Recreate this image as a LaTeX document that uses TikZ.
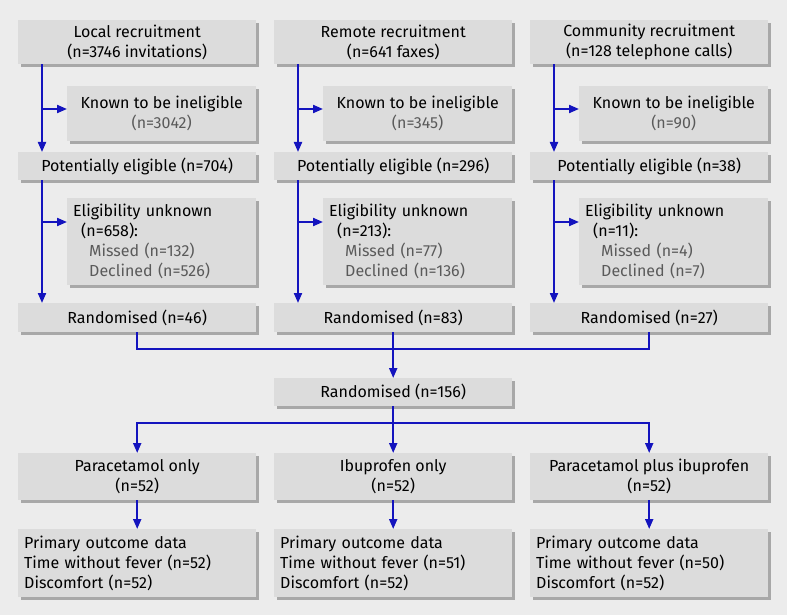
\documentclass[tikz,border=0pt]{standalone}
\usepackage{fontspec}
\setmainfont{Fira Sans}
\usetikzlibrary{arrows.meta, positioning, shadows}
\definecolor{cBack}{RGB}{236,236,236}
\definecolor{cBox}{RGB}{220,220,220}
\definecolor{cShade}{RGB}{168,168,168}
\definecolor{cFlow}{RGB}{20,20,190}
\definecolor{cNote}{RGB}{90,90,90}
\tikzset{
	box/.style ={rectangle, anchor=north west, fill=cBox, inner xsep=6pt, inner ysep=0pt,
		drop shadow={shadow xshift=3pt, shadow yshift=-3pt, fill=cShade, opacity=1}},
	cbox/.style={box, align=center},
	lbox/.style={box, align=left},
	link/.style={draw=cFlow, line width=2pt},
	flow/.style={link, -{Triangle[length=10pt, width=8pt]}},
}
\newcommand{\grey}[1]{\textcolor{cNote}{#1}}

\begin{document}
\begin{tikzpicture}[x=1pt, y=-1pt, font=\fontsize{16}{20}\selectfont]
	\useasboundingbox (0,0) rectangle (787,615);
	\fill[cBack] (0,0) rectangle (787,615);
	% recruitment
	\node[cbox, minimum width=238pt, minimum height=44pt] (loc1) at (18,20) {Local recruitment\\(n=3746 invitations)};
	\node[cbox, minimum width=238pt, minimum height=44pt] (loc2) at (274,20) {Remote recruitment\\(n=641 faxes)};
	\node[cbox, minimum width=238pt, minimum height=44pt] (loc3) at (530,20) {Community recruitment\\(n=128 telephone calls)};
	\node[cbox, minimum width=189pt, minimum height=55pt] (inel1) at (67,86) {Known to be ineligible\\\grey{(n=3042)}};
	\node[cbox, minimum width=189pt, minimum height=55pt] (inel2) at (323,86) {Known to be ineligible\\\grey{(n=345)}};
	\node[cbox, minimum width=189pt, minimum height=55pt] (inel3) at (579,86) {Known to be ineligible\\\grey{(n=90)}};
	\node[cbox, minimum width=238pt, minimum height=28pt] (pot1) at (18,152) {Potentially eligible (n=704)};
	\node[cbox, minimum width=238pt, minimum height=28pt] (pot2) at (274,152) {Potentially eligible (n=296)};
	\node[cbox, minimum width=238pt, minimum height=28pt] (pot3) at (530,152) {Potentially eligible (n=38)};
	\node[lbox, text width=177pt, minimum height=87pt] (unk1) at (67,198) {Eligibility unknown\\\hspace*{8pt}(n=658):\\\hspace*{16pt}\grey{Missed (n=132)}\\\hspace*{16pt}\grey{Declined (n=526)}};
	\node[lbox, text width=177pt, minimum height=87pt] (unk2) at (323,198) {Eligibility unknown\\\hspace*{8pt}(n=213):\\\hspace*{16pt}\grey{Missed (n=77)}\\\hspace*{16pt}\grey{Declined (n=136)}};
	\node[lbox, text width=177pt, minimum height=87pt] (unk3) at (579,198) {Eligibility unknown\\\hspace*{8pt}(n=11):\\\hspace*{16pt}\grey{Missed (n=4)}\\\hspace*{16pt}\grey{Declined (n=7)}};
	\node[cbox, minimum width=238pt, minimum height=29pt] (rand1) at (18,303) {Randomised (n=46)};
	\node[cbox, minimum width=238pt, minimum height=29pt] (rand2) at (274,303) {Randomised (n=83)};
	\node[cbox, minimum width=238pt, minimum height=29pt] (rand3) at (530,303) {Randomised (n=27)};
	% allocation
	\node[cbox, minimum width=238pt, minimum height=28pt] (rall) at (274,378) {Randomised (n=156)};
	\node[cbox, minimum width=238pt, minimum height=47pt] (trt1) at (18,453) {Paracetamol only\\(n=52)};
	\node[cbox, minimum width=238pt, minimum height=47pt] (trt2) at (274,453) {Ibuprofen only\\(n=52)};
	\node[cbox, minimum width=238pt, minimum height=47pt] (trt3) at (530,453) {Paracetamol plus ibuprofen\\(n=52)};
	\node[lbox, text width=226pt, minimum height=68pt] (out1) at (18,529) {Primary outcome data\\Time without fever (n=52)\\Discomfort (n=52)};
	\node[lbox, text width=226pt, minimum height=68pt] (out2) at (274,529) {Primary outcome data\\Time without fever (n=51)\\Discomfort (n=52)};
	\node[lbox, text width=226pt, minimum height=68pt] (out3) at (530,529) {Primary outcome data\\Time without fever (n=50)\\Discomfort (n=52)};
	% trunks and side branches
	\coordinate (tk1) at ([xshift=24pt]loc1.south west);
	\coordinate (tk2) at ([xshift=24pt]loc2.south west);
	\coordinate (tk3) at ([xshift=24pt]loc3.south west);
	\coordinate (br1) at ([yshift=-23pt]inel1.north west);
	\coordinate (br2) at ([yshift=-23pt]inel2.north west);
	\coordinate (br3) at ([yshift=-23pt]inel3.north west);
	\coordinate (bu1) at ([yshift=-24pt]unk1.north west);
	\coordinate (bu2) at ([yshift=-24pt]unk2.north west);
	\coordinate (bu3) at ([yshift=-24pt]unk3.north west);
	\draw[flow] (tk1) -- (tk1 |- pot1.north);
	\draw[flow] (tk2) -- (tk2 |- pot2.north);
	\draw[flow] (tk3) -- (tk3 |- pot3.north);
	\draw[flow] (tk1 |- br1) -- (br1);
	\draw[flow] (tk2 |- br2) -- (br2);
	\draw[flow] (tk3 |- br3) -- (br3);
	\draw[flow] (tk1 |- pot1.south) -- (tk1 |- rand1.north);
	\draw[flow] (tk2 |- pot2.south) -- (tk2 |- rand2.north);
	\draw[flow] (tk3 |- pot3.south) -- (tk3 |- rand3.north);
	\draw[flow] (tk1 |- bu1) -- (bu1);
	\draw[flow] (tk2 |- bu2) -- (bu2);
	\draw[flow] (tk3 |- bu3) -- (bu3);
	% merge and split
	\coordinate (merge) at (rand2.south |- 0,349);
	\coordinate (split) at (rall.south |- 0,423);
	\draw[link] (rand1.south) |- (merge) -| (rand3.south);
	\draw[flow] (rand2.south) -- (rall.north);
	\draw[flow] (rall.south) -- (trt2.north);
	\draw[flow] (split) -| (trt1.north);
	\draw[flow] (split) -| (trt3.north);
	\draw[flow] (trt1.south) -- (out1.north);
	\draw[flow] (trt2.south) -- (out2.north);
	\draw[flow] (trt3.south) -- (out3.north);
\end{tikzpicture}
\end{document}
